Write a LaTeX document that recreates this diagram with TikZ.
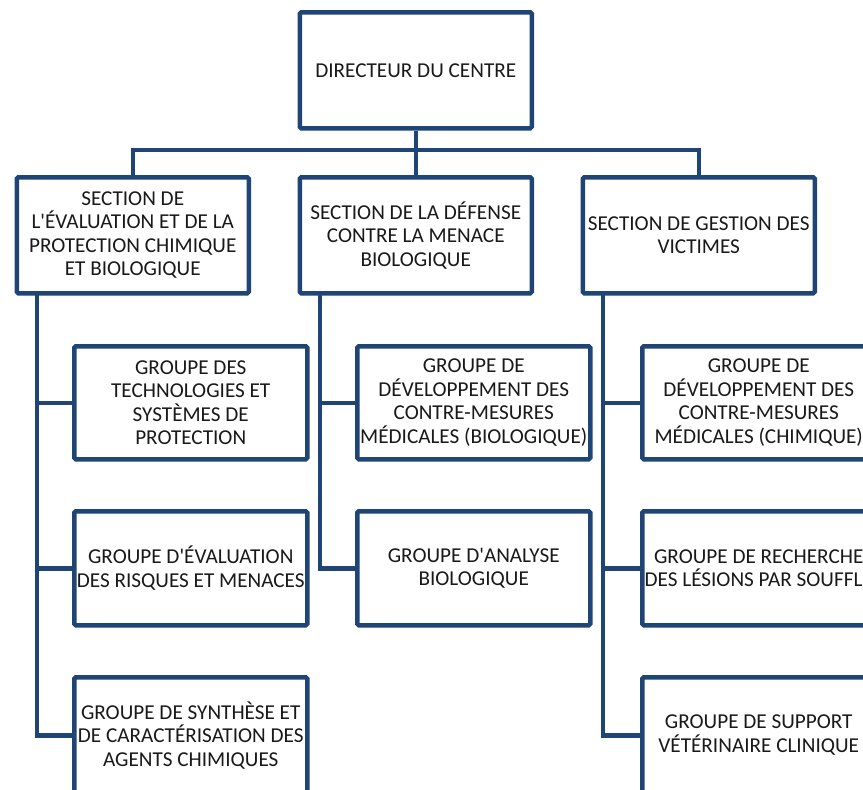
\documentclass[tikz,border=0pt]{standalone}
\usepackage{fontspec}
\setmainfont{Carlito}
\definecolor{orgblue}{RGB}{31,68,118}
\newcommand{\ap}{\textquotesingle}
\begin{document}
\begin{tikzpicture}[x=1pt,y=-1pt,
  box/.style={draw=orgblue, line width=4.5pt, rounded corners=1.5pt, fill=white,
    minimum width=232pt, minimum height=116pt, inner sep=0pt, align=center,
    font=\fontsize{21.2}{23.5}\selectfont, text=black!90, anchor=north west},
  link/.style={draw=orgblue, line width=4.5pt}]
\useasboundingbox (0,0) rectangle (863,790);
\node[box] (dir) at (297.5,10) {DIRECTEUR DU CENTRE};
\node[box] (secL) at (14.5,175) {SECTION DE\\L\ap ÉVALUATION ET DE LA\\PROTECTION CHIMIQUE\\ET BIOLOGIQUE};
\node[box] (secM) at (297.5,175) {SECTION DE LA DÉFENSE\\CONTRE LA MENACE\\BIOLOGIQUE};
\node[box] (secR) at (580.5,175) {SECTION DE GESTION DES\\VICTIMES};
\node[box, minimum width=233pt, minimum height=113pt] (gL1) at (72,344) {GROUPE DES\\TECHNOLOGIES ET\\SYSTÈMES DE\\PROTECTION};
\node[box, minimum width=233pt, minimum height=114pt] (gL2) at (72,509) {GROUPE D\ap ÉVALUATION\\DES RISQUES ET MENACES};
\node[box, minimum width=233pt, minimum height=116pt] (gL3) at (72,675) {GROUPE DE SYNTHÈSE ET\\DE CARACTÉRISATION DES\\AGENTS CHIMIQUES};
\node[box, minimum width=233pt, minimum height=113pt] (gM1) at (355,344) {GROUPE DE\\DÉVELOPPEMENT DES\\CONTRE-MESURES\\MÉDICALES (BIOLOGIQUE)};
\node[box, minimum width=233pt, minimum height=114pt] (gM2) at (355,509) {GROUPE D\ap ANALYSE\\BIOLOGIQUE};
\node[box, minimum width=233pt, minimum height=113pt] (gR1) at (640,344) {GROUPE DE\\DÉVELOPPEMENT DES\\CONTRE-MESURES\\MÉDICALES (CHIMIQUE)};
\node[box, minimum width=233pt, minimum height=114pt] (gR2) at (640,509) {GROUPE DE RECHERCHE\\DES LÉSIONS PAR SOUFFLE};
\node[box, minimum width=233pt, minimum height=116pt] (gR3) at (640,675) {GROUPE DE SUPPORT\\VÉTÉRINAIRE CLINIQUE};
\coordinate (bar) at (0,150);
\coordinate (tL) at (37,291);
\coordinate (tM) at (320,291);
\coordinate (tR) at (603,291);
\draw[link] (dir.south) -- (secM.north);
\draw[link] (secL.north) -- (secL.north |- bar) -- (secR.north |- bar) -- (secR.north);
\draw[link] (tL) |- (gL3.west);
\draw[link] (tL |- gL1.west) -- (gL1.west);
\draw[link] (tL |- gL2.west) -- (gL2.west);
\draw[link] (tM) |- (gM2.west);
\draw[link] (tM |- gM1.west) -- (gM1.west);
\draw[link] (tR) |- (gR3.west);
\draw[link] (tR |- gR1.west) -- (gR1.west);
\draw[link] (tR |- gR2.west) -- (gR2.west);
\end{tikzpicture}
\end{document}
